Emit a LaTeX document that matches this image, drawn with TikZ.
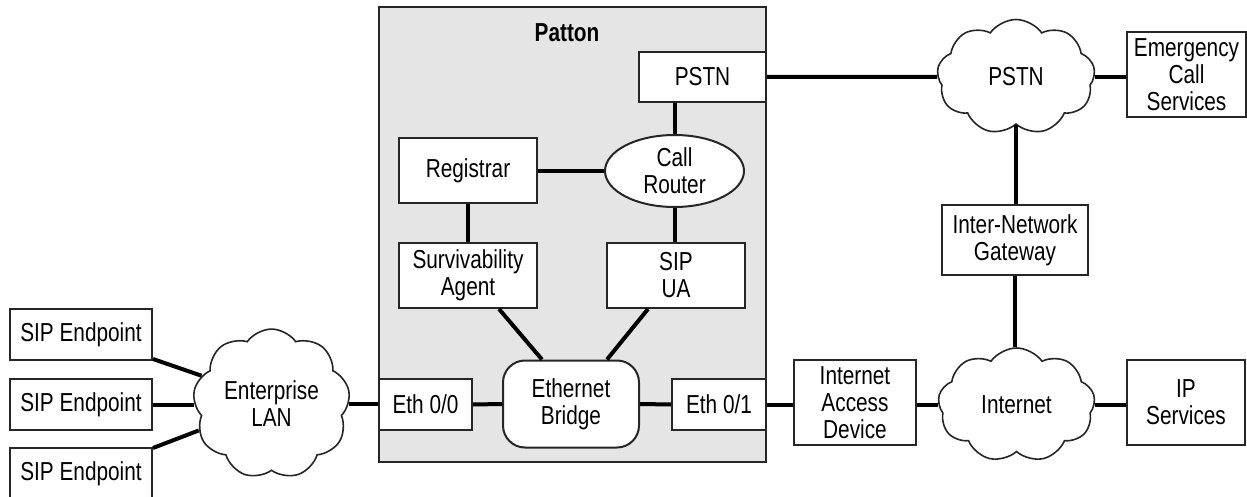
\documentclass[tikz,border=0pt]{standalone}
\usepackage{fontspec}
\setmainfont{Liberation Sans}[FakeStretch=0.8]
\usetikzlibrary{shapes.symbols,shapes.geometric}
\begin{document}
\begin{tikzpicture}[x=0.5pt,y=-0.5pt,
  font=\fontsize{13}{13.5}\selectfont,
  box/.style={draw=black!85,line width=1pt,fill=white,align=center,inner sep=0pt},
  oval/.style={draw=black!85,line width=1pt,fill=white,ellipse,align=center,inner sep=0pt},
  cloudy/.style={draw=black!85,line width=0.8pt,fill=white,cloud,cloud puffs=9,cloud puff arc=110,align=center,inner sep=0pt},
  conn/.style={line width=2pt,black}]
\useasboundingbox (0,0) rectangle (1247,497);
% Patton enclosure
\node[box,fill=gray!20,minimum width=193.5pt,minimum height=227.5pt] (patton) at (572.5,234.5) {};
\node[font=\fontsize{13}{13.5}\selectfont\bfseries] (pattonlbl) at (567,33) {Patton};
% inner nodes
\node[box,minimum width=63.5pt,minimum height=25pt] (pstnbox) at (702.5,77) {PSTN};
\node[box,minimum width=69pt,minimum height=32.5pt] (reg) at (468,171) {Registrar};
\node[oval,minimum width=69.5pt,minimum height=36pt] (cr) at (674.5,171) {Call\\Router};
\node[box,minimum width=69pt,minimum height=32.5pt] (surv) at (468,275.5) {Survivability\\Agent};
\node[box,minimum width=69pt,minimum height=32.5pt] (sipua) at (676,275.5) {SIP\\UA};
\node[box,rounded corners=11pt,minimum width=68pt,minimum height=43.5pt] (bridge) at (571,404) {Ethernet\\Bridge};
\node[box,minimum width=46.5pt,minimum height=25.5pt] (eth0) at (425.5,404.5) {Eth 0/0};
\node[box,minimum width=47pt,minimum height=25.5pt] (eth1) at (719,404.5) {Eth 0/1};
% left side
\node[cloudy,minimum width=78.5pt,minimum height=59.5pt] (lan) at (271.5,404) {Enterprise\\LAN};
\node[box,minimum width=71pt,minimum height=25.5pt] (sep1) at (81,334.5) {SIP Endpoint};
\node[box,minimum width=71pt,minimum height=25.5pt] (sep2) at (81,404.5) {SIP Endpoint};
\node[box,minimum width=71pt,minimum height=25.5pt] (sep3) at (81,473.5) {SIP Endpoint};
% right side
\node[box,minimum width=61pt,minimum height=42.5pt] (iad) at (855,402.5) {Internet\\Access\\Device};
\node[cloudy,minimum width=78.5pt,minimum height=57pt] (inet) at (1016.5,405) {Internet};
\node[box,minimum width=59pt,minimum height=42.5pt] (ips) at (1186,402.5) {IP\\Services};
\node[box,minimum width=73pt,minimum height=35pt] (ing) at (1015,240) {Inter-Network\\Gateway};
\node[cloudy,minimum width=79pt,minimum height=57.5pt] (pstncloud) at (1016,77) {PSTN};
\node[box,minimum width=59.5pt,minimum height=42.5pt] (ecs) at (1186.5,74.5) {Emergency\\Call\\Services};
% connectors
\draw[conn] (pstnbox.south -| cr.north) -- (cr.north);
\draw[conn] (reg.east) -- (cr.west);
\draw[conn] (reg.south) -- (surv.north);
\draw[conn] (cr.south) -- (cr.south |- sipua.north);
\draw[conn] ([xshift=15.5pt]surv.south) -- ([xshift=-14.5pt]bridge.north);
\draw[conn] ([xshift=-14pt]sipua.south) -- ([xshift=18pt]bridge.north);
\draw[conn] (eth0.east) -- (bridge.west);
\draw[conn] (bridge.east) -- (eth1.east -| eth1.west);
\draw[conn] ([yshift=1pt]sep1.south east) -- (lan.158);
\draw[conn] (sep2.east) -- (sep2.east -| lan.west);
\draw[conn] ([yshift=-0.5pt]sep3.north east) -- (lan.200);
\draw[conn] (lan.east) -- (lan.east -| eth0.west);
\draw[conn] (eth1.east) -- (eth1.east -| iad.west);
\draw[conn] (iad.east |- inet.west) -- (inet.west);
\draw[conn] (inet.east) -- (inet.east -| ips.west);
\draw[conn] (ing.south) -- (ing.south |- inet.north);
\draw[conn] (pstncloud.south) -- (pstncloud.south |- ing.north);
\draw[conn] (pstnbox.east) -- (pstncloud.west);
\draw[conn] (pstncloud.east) -- (pstncloud.east -| ecs.west);
\end{tikzpicture}
\end{document}
